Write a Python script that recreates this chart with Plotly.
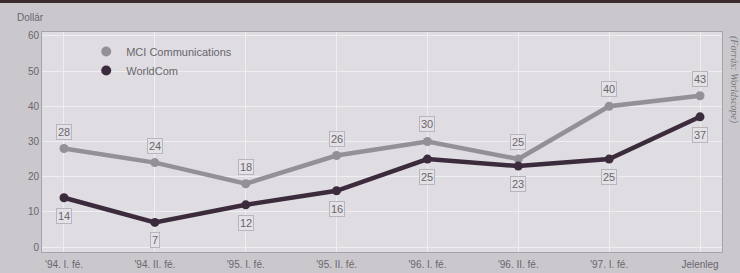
import plotly.graph_objects as go

categories = ["'94. I. fé.", "'94. II. fé.", "'95. I. fé.", "'95. II. fé.",
              "'96. I. fé.", "'96. II. fé.", "'97. I. fé.", "Jelenleg"]
mci = [28, 24, 18, 26, 30, 25, 40, 43]
worldcom = [14, 7, 12, 16, 25, 23, 25, 37]
y_ticks = [0, 10, 20, 30, 40, 50, 60]

x = list(range(len(categories)))
MCI_C = "#959097"
WC_C = "#3b2b3d"
TXT = "#6a666c"
FONT = "Liberation Sans, Arial, sans-serif"
PW, PH = 680, 220  # plot area size in px

fig = go.Figure()
fig.add_trace(go.Scatter(x=x, y=mci, mode="lines+markers", showlegend=False,
                         line=dict(color=MCI_C, width=4.5), marker=dict(size=9, color=MCI_C)))
fig.add_trace(go.Scatter(x=x, y=worldcom, mode="lines+markers", showlegend=False,
                         line=dict(color=WC_C, width=4.5), marker=dict(size=9, color=WC_C)))
fig.add_trace(go.Scatter(x=[None], y=[None], mode="markers", name="MCI Communications",
                         marker=dict(size=10, color=MCI_C)))
fig.add_trace(go.Scatter(x=[None], y=[None], mode="markers", name="WorldCom",
                         marker=dict(size=10, color=WC_C)))

ann = []
for xi, v in zip(x, mci):
    ann.append(dict(x=xi, y=v, xref="x", yref="y", text=str(v), showarrow=False, yshift=17,
                    font=dict(size=11, color=TXT, family=FONT), bgcolor="#e4e2e6",
                    bordercolor="#b9b5bb", borderwidth=1, borderpad=1))
for xi, v in zip(x, worldcom):
    ann.append(dict(x=xi, y=v, xref="x", yref="y", text=str(v), showarrow=False, yshift=-18,
                    font=dict(size=11, color=TXT, family=FONT), bgcolor="#e4e2e6",
                    bordercolor="#b9b5bb", borderwidth=1, borderpad=1))
ann.append(dict(x=-12 / PW, y=1 + 15 / PH, xref="paper", yref="paper", text="Dollár",
                showarrow=False, xanchor="center", yanchor="middle",
                font=dict(size=10, color=TXT, family=FONT)))
ann.append(dict(x=1 + 12 / PW, y=1 - 48 / PH, xref="paper", yref="paper",
                text="<i>(Forrás: Worldscope)</i>", showarrow=False, textangle=90,
                xanchor="center", yanchor="middle",
                font=dict(size=10, color="#7a767c", family="Liberation Serif, serif")))

fig.update_layout(
    width=740, height=273,
    margin=dict(l=42, r=18, t=32, b=21),
    paper_bgcolor="#cbc8cd",
    plot_bgcolor="#dfdde2",
    font=dict(family=FONT, size=10, color=TXT),
    showlegend=True,
    legend=dict(x=0.065, y=0.977, xanchor="left", yanchor="top", bgcolor="rgba(0,0,0,0)",
                font=dict(size=11, color=TXT, family=FONT), itemwidth=30, tracegroupgap=0),
    annotations=ann,
    shapes=[dict(type="rect", xref="paper", yref="paper", x0=-0.1, x1=1.1,
                 y0=1 + 29 / PH, y1=1 + 33 / PH, fillcolor="#3a2c2c", line=dict(width=0))],
)
fig.update_xaxes(range=[-0.242, 7.242], tickvals=x, ticktext=categories, showgrid=True,
                 gridcolor="#efeef1", gridwidth=1, zeroline=False, showline=True,
                 linecolor="#a8a4aa", mirror=True, ticks="outside", ticklen=3,
                 tickcolor="rgba(0,0,0,0)", tickfont=dict(size=10, color=TXT), automargin=False)
fig.update_yaxes(range=[-1.4, 61.1], tickvals=y_ticks, showgrid=True, gridcolor="#efeef1",
                 gridwidth=1, zeroline=False, showline=True, linecolor="#a8a4aa", mirror=True,
                 ticks="", tickfont=dict(size=10, color=TXT))

fig.write_html("out.html", config={"displayModeBar": False},
               post_script="document.body.style.margin='0';document.body.style.overflow='hidden';")
